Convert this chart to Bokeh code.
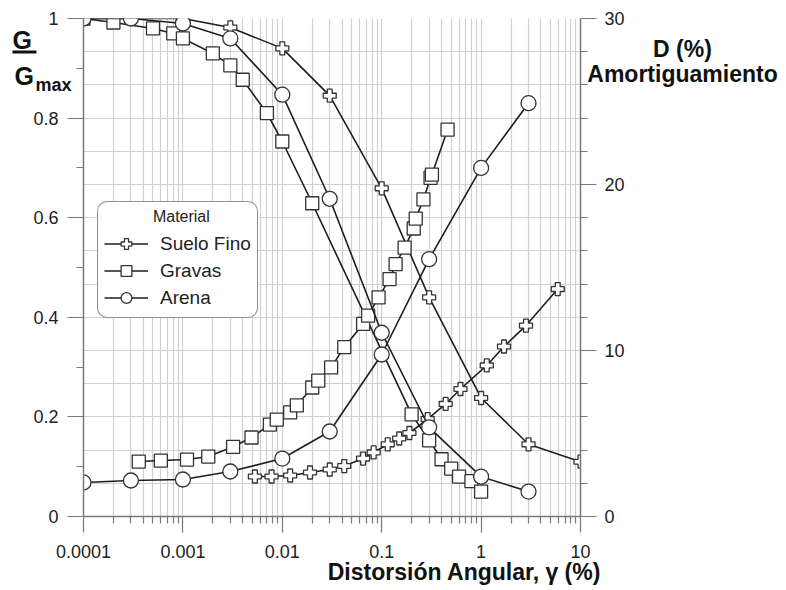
from bokeh.plotting import figure
from bokeh.models import Range1d, LinearAxis, FixedTicker, Label, Legend, LegendItem
from bokeh.embed import file_html
from bokeh.resources import INLINE

FONT = "Liberation Sans"

# ---------------- data ----------------
x_ticks = [0.0001, 0.001, 0.01, 0.1, 1, 10]
x_tick_labels = ["0.0001", "0.001", "0.01", "0.1", "1", "10"]
g_ticks = [0, 0.2, 0.4, 0.6, 0.8, 1.0]
g_tick_labels = ["0", "0.2", "0.4", "0.6", "0.8", "1"]
d_ticks = [0, 10, 20, 30]
d_tick_labels = ["0", "10", "20", "30"]

suelo_g_x = [0.0001, 0.001, 0.003, 0.01, 0.03, 0.1, 0.3, 1, 3, 10]
suelo_g_y = [1.0, 1.0, 0.982, 0.94, 0.845, 0.659, 0.44, 0.238, 0.145, 0.11]
suelo_d_x = [0.0053, 0.0078, 0.012, 0.019, 0.03, 0.042, 0.065, 0.083, 0.115, 0.15,
             0.19, 0.29, 0.44, 0.62, 1.14, 1.7, 2.83, 5.9]
suelo_d_y = [2.41, 2.41, 2.47, 2.65, 2.83, 3.04, 3.49, 3.86, 4.35, 4.7,
             5.03, 5.87, 6.78, 7.68, 9.1, 10.24, 11.5, 13.7]

gravas_g_x = [0.0001, 0.0002, 0.0005, 0.0008, 0.001, 0.002, 0.003, 0.004, 0.007, 0.01,
              0.02, 0.2, 0.3, 0.4, 0.5, 0.6, 0.8, 1.0]
gravas_g_y = [1.0, 0.992, 0.98, 0.97, 0.96, 0.93, 0.906, 0.877, 0.81, 0.753,
              0.629, 0.205, 0.153, 0.115, 0.096, 0.08, 0.071, 0.05]
gravas_d_x = [0.00036, 0.0006, 0.0011, 0.0018, 0.0032, 0.0049, 0.0075, 0.0088, 0.012, 0.014,
              0.02, 0.023, 0.031, 0.042, 0.065, 0.073, 0.093, 0.12, 0.138, 0.17,
              0.21, 0.22, 0.263, 0.31, 0.32, 0.46]
gravas_d_y = [3.31, 3.37, 3.43, 3.61, 4.2, 4.76, 5.54, 5.84, 6.27, 6.69,
              7.77, 8.19, 8.98, 10.2, 11.6, 12.1, 13.2, 14.3, 15.2, 16.2,
              17.35, 17.95, 19.1, 20.4, 20.6, 23.3]

arena_x = [0.0001, 0.0003, 0.001, 0.003, 0.01, 0.03, 0.1, 0.3, 1, 3]
arena_g_y = [1.0, 1.0, 0.99, 0.96, 0.847, 0.638, 0.369, 0.179, 0.08, 0.05]
arena_d_y = [2.05, 2.17, 2.23, 2.71, 3.49, 5.12, 9.76, 15.5, 21.0, 24.9]

# ---------------- layout ----------------
W, H = 786, 590
FX0, FX1, FY0, FY1 = 83, 580, 18, 516

p = figure(width=W, height=H, x_axis_type="log",
           x_range=Range1d(1e-4, 10), y_range=Range1d(0, 1),
           output_backend="svg", toolbar_location=None,
           min_border_left=FX0, min_border_right=W - FX1,
           min_border_top=FY0, min_border_bottom=H - FY1)
p.extra_y_ranges = {"D": Range1d(0, 30)}
p.outline_line_color = None
p.background_fill_color = "white"
p.border_fill_color = "white"

AX_COL = "#7a7a7a"
LBL_COL = "#222222"
GRID_COL = "#d0d0d0"


def style_axis(ax, standoff):
    ax.axis_line_color = AX_COL
    ax.axis_line_width = 1.5
    ax.major_tick_line_color = AX_COL
    ax.minor_tick_line_color = AX_COL
    ax.major_tick_line_width = 1.2
    ax.minor_tick_line_width = 1.2
    ax.major_tick_in = 0
    ax.major_tick_out = 16
    ax.minor_tick_in = 0
    ax.minor_tick_out = 7
    ax.major_label_text_font = FONT
    ax.major_label_text_font_size = "18px"
    ax.major_label_text_color = LBL_COL
    ax.major_label_standoff = standoff


x_minor = [m * t for t in x_ticks[:-1] for m in range(2, 10)]
xax = p.xaxis[0]
xax.ticker = FixedTicker(ticks=x_ticks, minor_ticks=x_minor)
xax.major_label_overrides = dict(zip(x_ticks, x_tick_labels))
style_axis(xax, 12)

g_minor = [round(0.1 * i, 2) for i in range(11)]
yax = p.yaxis[0]
yax.ticker = FixedTicker(ticks=g_ticks, minor_ticks=g_minor)
yax.major_label_overrides = dict(zip(g_ticks, g_tick_labels))
style_axis(yax, 9)

d_minor = list(range(0, 31, 2))
rax = LinearAxis(y_range_name="D", ticker=FixedTicker(ticks=d_ticks, minor_ticks=d_minor))
rax.major_label_overrides = dict(zip(d_ticks, d_tick_labels))
style_axis(rax, 8)
p.add_layout(rax, "right")

p.xgrid[0].grid_line_color = GRID_COL
p.xgrid[0].minor_grid_line_color = GRID_COL
p.xgrid[0].grid_line_width = 1.2
p.xgrid[0].minor_grid_line_width = 1.2
p.ygrid[0].ticker = FixedTicker(ticks=[d / 30 for d in d_minor])
p.ygrid[0].grid_line_color = GRID_COL
p.ygrid[0].grid_line_width = 1.2

LINE_COL = "#1e1e1e"
MK_COL = "#333333"


def series(x, y, marker, size, rng=None):
    kw = {} if rng is None else {"y_range_name": rng}
    ln = p.line(x, y, line_color=LINE_COL, line_width=1.6, **kw)
    sc = p.scatter(x, y, marker=marker, size=size, fill_color="white",
                   line_color=MK_COL, line_width=1.3, **kw)
    return ln, sc


sf_g = series(suelo_g_x, suelo_g_y, "plus", 13)
sf_d = series(suelo_d_x, suelo_d_y, "plus", 13, "D")
gr_g = series(gravas_g_x, gravas_g_y, "square", 13)
gr_d = series(gravas_d_x, gravas_d_y, "square", 13, "D")
ar_g = series(arena_x, arena_g_y, "circle", 15)
ar_d = series(arena_x, arena_d_y, "circle", 15, "D")

legend = Legend(items=[LegendItem(label="Suelo Fino", renderers=list(sf_g)),
                       LegendItem(label="Gravas", renderers=list(gr_g)),
                       LegendItem(label="Arena", renderers=list(ar_g))],
                location=(14, 198),
                title="\u00a0" * 11 + "Material",
                title_text_font=FONT, title_text_font_size="16px",
                title_text_font_style="normal", title_text_color="#222222",
                title_standoff=4,
                label_text_font=FONT, label_text_font_size="19px",
                label_text_color="#222222",
                glyph_width=44, glyph_height=27, label_height=20,
                label_standoff=12, spacing=0, padding=6, margin=0,
                border_line_color="#222222", border_line_width=1.5,
                background_fill_color="white", background_fill_alpha=1.0)
try:
    legend.border_radius = 10
except Exception:
    pass
p.add_layout(legend)

# ------------- transparent overlay (own root) for the titles outside the frame -------------
q = figure(width=W, height=H, x_range=Range1d(0, W), y_range=Range1d(H, 0),
           x_axis_location=None, y_axis_location=None,
           output_backend="svg", toolbar_location=None, min_border=0,
           styles={"position": "absolute", "top": "0px", "left": "0px"})
q.grid.visible = False
q.outline_line_color = None
q.background_fill_alpha = 0
q.border_fill_alpha = 0


def add_label(px, baseline, text, size, align="left"):
    # Bokeh anchors "alphabetic" a little below the true baseline; compensate
    shift = 0.35 * size
    q.add_layout(Label(x=px, y=baseline - shift, text=text, text_font=FONT,
                       text_font_size=f"{size}px", text_font_style="bold",
                       text_color="#111111", text_align=align,
                       text_baseline="alphabetic"))


add_label(12, 48, "G", 25)
q.segment(x0=[12], y0=[51.5], x1=[36], y1=[51.5], line_color="#111111", line_width=3)
add_label(14, 84, "G", 25)
add_label(35, 91, "max", 18)
add_label(682, 57, "D (%)", 23, align="center")
add_label(682, 82, "Amortiguamiento", 23, align="center")
add_label(464, 580, "Distorsión Angular, γ (%)", 23, align="center")

open("out.html", "w").write(file_html([p, q], INLINE))
